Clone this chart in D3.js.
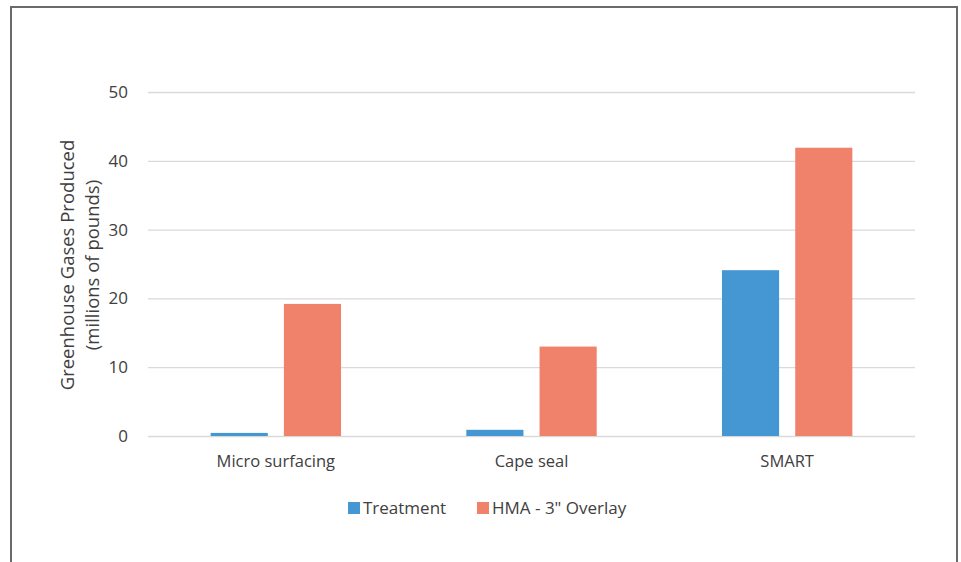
<!DOCTYPE html>
<html>
<head>
<meta charset="utf-8">
<script src="https://cdn.jsdelivr.net/npm/d3@7"></script>
<style>
  body { margin: 0; background: #fff; }
  svg text { font-family: "Open Sans", Lato, sans-serif; fill: #404040; }
</style>
</head>
<body>
<svg id="chart" width="961" height="562"></svg>
<script>
const categories = ['Micro surfacing', 'Cape seal', 'SMART'];
const series = ['Treatment', 'HMA - 3" Overlay'];
const treatment = [0.45, 0.9, 24.1];
const overlay = [19.2, 13.0, 41.9];
const yTicks = [0, 10, 20, 30, 40, 50];
const colors = ['#4597d3', '#f0826b'];

const svg = d3.select('#chart');

// frame round the figure (bottom runs off the page)
svg.append('path')
  .attr('d', 'M11,562 V7 H957 V562')
  .attr('fill', 'none')
  .attr('stroke', '#6a6a6a')
  .attr('stroke-width', 2);

const plotL = 148, plotR = 915, plotT = 92, plotB = 436;

const y = d3.scaleLinear().domain([0, 50]).range([plotB, plotT]);
const x0 = d3.scaleBand().domain(categories).range([plotL, plotR])
  .paddingInner(0.49).paddingOuter(0.245);
const x1 = d3.scaleBand().domain(series).range([0, x0.bandwidth()])
  .paddingInner(0.22);

// gridlines + tick labels
const yAxis = svg.append('g')
  .attr('transform', `translate(${plotL},0)`)
  .call(d3.axisLeft(y).tickValues(yTicks).tickSize(-(plotR - plotL)).tickPadding(20));
yAxis.select('.domain').remove();
yAxis.selectAll('line').attr('stroke', '#d9d9d9').attr('stroke-width', 1.3);
yAxis.selectAll('text').attr('font-size', 17).style('font-family', '"Open Sans", sans-serif').attr('fill', '#404040');

const rows = categories.map((c, i) => ({ cat: c, vals: [treatment[i], overlay[i]] }));

svg.append('g').selectAll('g')
  .data(rows)
  .enter().append('g')
  .attr('transform', d => `translate(${x0(d.cat)},0)`)
  .selectAll('rect')
  .data(d => d.vals.map((v, j) => ({ s: series[j], v: v, j: j })))
  .enter().append('rect')
  .attr('x', d => x1(d.s))
  .attr('width', x1.bandwidth())
  .attr('y', d => y(d.v))
  .attr('height', d => y(0) - y(d.v))
  .attr('fill', d => colors[d.j]);

// category labels
const xAxis = svg.append('g')
  .attr('transform', `translate(0,${plotB})`)
  .call(d3.axisBottom(x0).tickSize(0).tickPadding(19));
xAxis.select('.domain').remove();
xAxis.selectAll('text').attr('font-size', 16.5).style('font-family', '"Open Sans", sans-serif').attr('fill', '#404040');

// y title
const title = svg.append('text')
  .attr('transform', 'translate(80,265) rotate(-90)')
  .attr('text-anchor', 'middle')
  .attr('font-size', 18.5);
title.append('tspan').attr('x', 0).attr('dy', '-0.35em').text('Greenhouse Gases Produced');
title.append('tspan').attr('x', 0).attr('dy', '1.4em').text('(millions of pounds)');

// legend
const legendX = [348, 477];
const legend = svg.append('g').selectAll('g')
  .data(series)
  .enter().append('g')
  .attr('transform', (d, i) => `translate(${legendX[i]},502)`);
legend.append('rect').attr('width', 12).attr('height', 12).attr('fill', (d, i) => colors[i]);
legend.append('text').attr('x', 15).attr('y', 12).attr('font-size', 17).text(d => d);
</script>
</body>
</html>
